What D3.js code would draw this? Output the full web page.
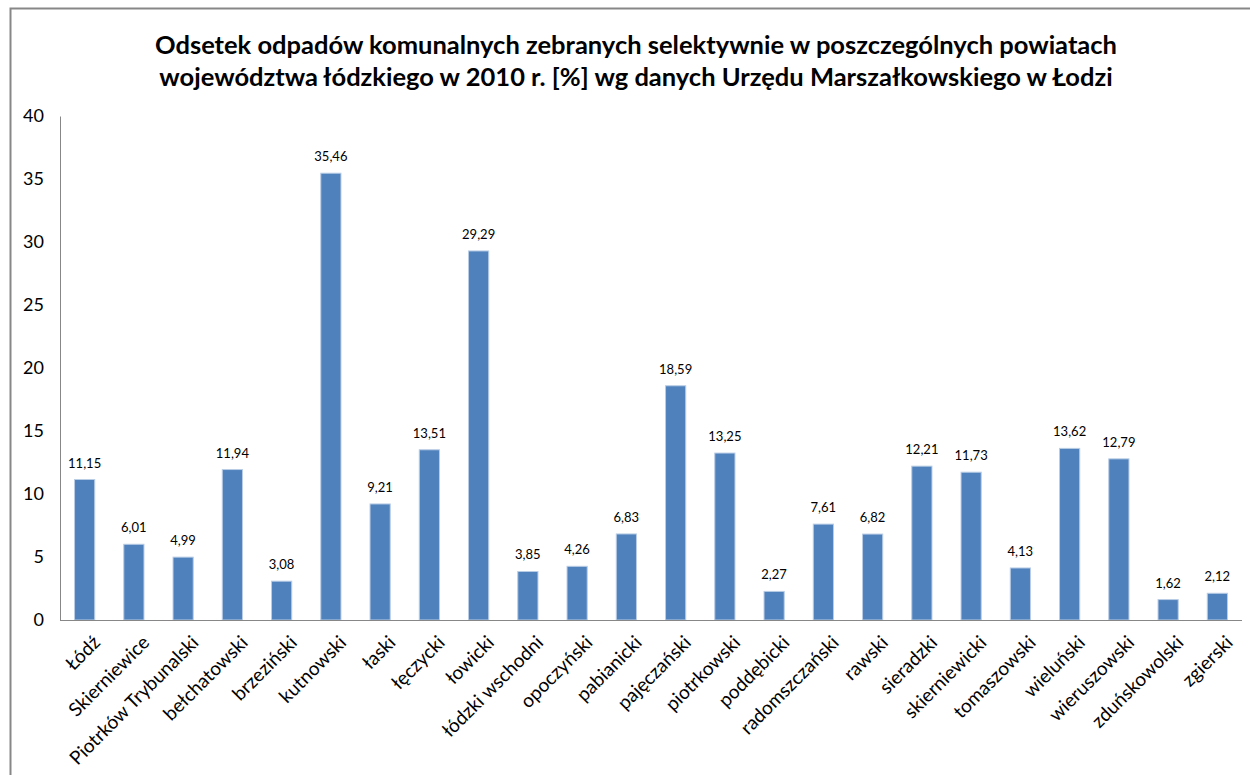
<!DOCTYPE html>
<html>
<head>
<meta charset="utf-8">
<script src="https://cdn.jsdelivr.net/npm/d3@7"></script>
<style>
  body { margin: 0; background: #fff; }
  text { font-family: Lato, "Open Sans", sans-serif; }
</style>
</head>
<body>
<div id="container"></div>
<script>
// data
let districts = ["Łódź", "Skierniewice", "Piotrków Trybunalski", "bełchatowski", "brzeziński",
  "kutnowski", "łaski", "łęczycki", "łowicki", "łódzki wschodni", "opoczyński", "pabianicki",
  "pajęczański", "piotrkowski", "poddębicki", "radomszczański", "rawski", "sieradzki",
  "skierniewicki", "tomaszowski", "wieluński", "wieruszowski", "zduńskowolski", "zgierski"];
let shares = [11.15, 6.01, 4.99, 11.94, 3.08, 35.46, 9.21, 13.51, 29.29, 3.85, 4.26, 6.83,
  18.59, 13.25, 2.27, 7.61, 6.82, 12.21, 11.73, 4.13, 13.62, 12.79, 1.62, 2.12];
let yTicks = [0, 5, 10, 15, 20, 25, 30, 35, 40];
let titleLines = [
  "Odsetek odpadów komunalnych zebranych selektywnie w poszczególnych powiatach",
  "województwa łódzkiego w 2010 r. [%] wg danych Urzędu Marszałkowskiego w Łodzi"
];

let width = 1250, height = 775;

let viz = d3.select("#container")
  .append("svg")
    .attr("width", width)
    .attr("height", height)
;

// chart frame (open on right and bottom)
viz.append("path")
    .attr("d", "M10.5," + height + " L10.5,8.5 L" + width + ",8.5")
    .attr("fill", "none")
    .attr("stroke", "#878787")
    .attr("stroke-width", 2)
;

// title
viz.append("text")
    .attr("x", 636)
    .attr("y", 54)
    .attr("text-anchor", "middle")
    .attr("font-size", 25.5)
    .attr("font-weight", "bold")
    .attr("fill", "#000")
  .selectAll("tspan")
  .data(titleLines)
  .join("tspan")
    .attr("x", 636)
    .attr("dy", (d, i) => i === 0 ? 0 : 32)
    .text(d => d)
;

let x = d3.scaleBand()
    .domain(districts)
    .range([60, 1242])
    .paddingInner(0.59)
    .paddingOuter(0.295)
;

let y = d3.scaleLinear()
    .domain([0, 40])
    .range([620, 116])
;

// y axis
let yAxis = viz.append("g")
    .attr("transform", "translate(60,0)")
    .call(d3.axisLeft(y).tickValues(yTicks).tickSize(0).tickPadding(16))
;
yAxis.select(".domain").attr("stroke", "#878787");
yAxis.selectAll("text")
    .attr("font-size", 18)
    .attr("font-family", "Lato, 'Open Sans', sans-serif")
    .attr("fill", "#000")
;

// bars
viz.append("g")
  .selectAll("rect")
  .data(districts)
  .join("rect")
    .attr("x", d => x(d))
    .attr("y", (d, i) => y(shares[i]))
    .attr("width", x.bandwidth())
    .attr("height", (d, i) => y(0) - y(shares[i]))
    .attr("fill", "#4f81bd")
    .attr("stroke", "#b9cde5")
    .attr("stroke-width", 1)
;

// value labels
viz.append("g")
  .selectAll("text")
  .data(districts)
  .join("text")
    .attr("x", d => x(d) + x.bandwidth() / 2)
    .attr("y", (d, i) => y(shares[i]) - 12)
    .attr("text-anchor", "middle")
    .attr("font-size", 13)
    .attr("fill", "#000")
    .text((d, i) => shares[i].toFixed(2).replace(".", ","))
;

// x axis
let xAxis = viz.append("g")
    .attr("transform", "translate(0,620)")
    .call(d3.axisBottom(x).tickSize(0).tickPadding(0))
;
xAxis.select(".domain").attr("stroke", "#878787").attr("d", "M60,0.5H1242");
xAxis.selectAll("text")
    .attr("font-size", 19)
    .attr("font-family", "Lato, 'Open Sans', sans-serif")
    .attr("fill", "#000")
    .attr("text-anchor", "end")
    .attr("dy", "0.35em")
    .attr("transform", "translate(12,19) rotate(-45)")
;
</script>
</body>
</html>
